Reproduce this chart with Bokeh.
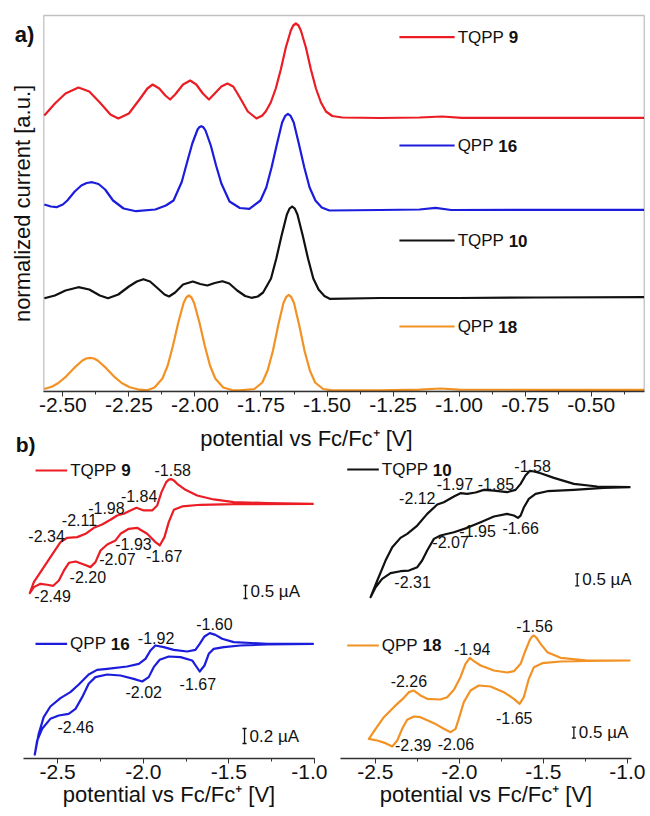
import math
from bokeh.plotting import figure
from bokeh.models import SingleIntervalTicker, NumeralTickFormatter, Range1d, BoxAnnotation
from bokeh.layouts import column, row
from bokeh.embed import file_html
from bokeh.resources import INLINE
from bokeh.core.properties import value

FONT = "Liberation Sans"
RED = "#eb1c24"
BLUE = "#1c1cdc"
BLACK = "#111111"
ORANGE = "#f39224"
INK = "#111111"
AXIS_TITLE = "potential vs Fc/Fc\u207a [V]"

# ---------------- a) normalized DPV-like curves (potential V, normalized current a.u.)
DPV_TQPP9 = [(-2.570, 2.76), (-2.530, 2.88), (-2.490, 2.98), (-2.441, 3.04), (-2.400, 3.00), (-2.360, 2.89),
             (-2.320, 2.77), (-2.290, 2.73), (-2.250, 2.78), (-2.210, 2.92), (-2.180, 3.03), (-2.160, 3.07),
             (-2.135, 3.03), (-2.112, 2.96), (-2.094, 2.92), (-2.075, 2.97), (-2.045, 3.07), (-2.018, 3.11),
             (-1.995, 3.07), (-1.970, 2.98), (-1.947, 2.92), (-1.925, 2.98), (-1.900, 3.05), (-1.877, 3.08),
             (-1.855, 3.05), (-1.830, 2.94), (-1.800, 2.80), (-1.767, 2.73), (-1.745, 2.76), (-1.732, 2.80),
             (-1.713, 2.89), (-1.694, 3.03), (-1.675, 3.22), (-1.656, 3.44), (-1.637, 3.61), (-1.628, 3.66),
             (-1.618, 3.68), (-1.608, 3.66), (-1.599, 3.61), (-1.580, 3.44), (-1.561, 3.22), (-1.542, 3.03),
             (-1.523, 2.89), (-1.504, 2.80), (-1.480, 2.755), (-1.442, 2.74), (-1.300, 2.735), (-1.150, 2.74),
             (-1.064, 2.75), (-0.990, 2.737), (-0.700, 2.737), (-0.300, 2.737)]
DPV_QPP16 = [(-2.570, 1.87), (-2.545, 1.85), (-2.524, 1.843), (-2.500, 1.87), (-2.483, 1.91), (-2.455, 2.00),
             (-2.430, 2.06), (-2.410, 2.085), (-2.389, 2.093), (-2.365, 2.075), (-2.340, 2.02), (-2.310, 1.91),
             (-2.270, 1.83), (-2.223, 1.803), (-2.150, 1.82), (-2.110, 1.86), (-2.081, 1.91), (-2.050, 2.095),
             (-2.030, 2.29), (-2.010, 2.48), (-1.990, 2.62), (-1.984, 2.642), (-1.976, 2.653), (-1.968, 2.642),
             (-1.960, 2.61), (-1.940, 2.46), (-1.920, 2.26), (-1.900, 2.08), (-1.869, 1.90), (-1.830, 1.835),
             (-1.794, 1.827), (-1.752, 1.91), (-1.730, 2.04), (-1.710, 2.24), (-1.690, 2.47), (-1.670, 2.69),
             (-1.658, 2.757), (-1.648, 2.777), (-1.638, 2.757), (-1.626, 2.69), (-1.606, 2.47), (-1.586, 2.24),
             (-1.566, 2.04), (-1.544, 1.91), (-1.520, 1.84), (-1.491, 1.81), (-1.300, 1.815), (-1.150, 1.82),
             (-1.089, 1.837), (-1.030, 1.815), (-0.700, 1.817), (-0.300, 1.817)]
DPV_TQPP10 = [(-2.570, 0.933), (-2.530, 0.96), (-2.490, 1.01), (-2.441, 1.043), (-2.400, 1.02), (-2.360, 0.96),
              (-2.329, 0.933), (-2.290, 0.97), (-2.250, 1.05), (-2.220, 1.10), (-2.195, 1.123), (-2.170, 1.10),
              (-2.140, 1.03), (-2.115, 0.97), (-2.098, 0.95), (-2.075, 0.99), (-2.045, 1.07), (-2.008, 1.10),
              (-1.980, 1.075), (-1.953, 1.06), (-1.925, 1.085), (-1.896, 1.103), (-1.870, 1.08), (-1.840, 1.01),
              (-1.810, 0.955), (-1.786, 0.937), (-1.762, 0.95), (-1.742, 0.99), (-1.712, 1.13), (-1.692, 1.33),
              (-1.672, 1.56), (-1.652, 1.77), (-1.642, 1.829), (-1.632, 1.85), (-1.622, 1.829), (-1.612, 1.77),
              (-1.592, 1.56), (-1.572, 1.33), (-1.552, 1.13), (-1.532, 1.02), (-1.510, 0.955), (-1.490, 0.927),
              (-1.300, 0.935), (-1.000, 0.935), (-0.700, 0.94), (-0.300, 0.943)]
DPV_QPP18 = [(-2.570, 0.025), (-2.540, 0.05), (-2.517, 0.085), (-2.487, 0.152), (-2.457, 0.236), (-2.427, 0.307),
             (-2.412, 0.33), (-2.397, 0.337), (-2.382, 0.33), (-2.367, 0.307), (-2.337, 0.236), (-2.307, 0.152),
             (-2.277, 0.085), (-2.247, 0.043), (-2.217, 0.022), (-2.180, 0.012), (-2.153, 0.04), (-2.123, 0.13),
             (-2.103, 0.26), (-2.083, 0.46), (-2.063, 0.69), (-2.043, 0.885), (-2.033, 0.94), (-2.023, 0.96),
             (-2.013, 0.94), (-2.003, 0.885), (-1.983, 0.69), (-1.963, 0.46), (-1.943, 0.26), (-1.923, 0.13),
             (-1.893, 0.04), (-1.860, 0.015), (-1.830, 0.012), (-1.775, 0.025), (-1.745, 0.09), (-1.725, 0.21),
             (-1.705, 0.405), (-1.685, 0.66), (-1.665, 0.885), (-1.655, 0.943), (-1.645, 0.966), (-1.635, 0.943),
             (-1.625, 0.885), (-1.605, 0.66), (-1.585, 0.405), (-1.565, 0.21), (-1.545, 0.09), (-1.515, 0.025),
             (-1.480, 0.012), (-1.300, 0.012), (-1.150, 0.018), (-1.070, 0.03), (-1.000, 0.018), (-0.700, 0.017),
             (-0.300, 0.017)]

# ---------------- b) cyclic voltammograms (potential V, current uA relative to baseline)
CV_TQPP9_FWD = [(-0.511, 0), (-0.858, 0.026), (-1.108, 0.064), (-1.257, 0.167), (-1.381, 0.321), (-1.468, 0.538),
                (-1.530, 0.769), (-1.555, 0.90), (-1.575, 0.949), (-1.592, 0.93), (-1.612, 0.833),
                (-1.647, 0.449), (-1.679, -0.064), (-1.717, -0.256), (-1.779, -0.256), (-1.834, -0.154),
                (-1.879, -0.256), (-1.929, -0.385), (-1.978, -0.449), (-2.028, -0.615), (-2.090, -0.795),
                (-2.152, -0.923), (-2.214, -1.154), (-2.276, -1.282), (-2.351, -1.308), (-2.401, -1.474),
                (-2.476, -2.051), (-2.550, -2.628), (-2.600, -3.013), (-2.630, -3.436)]
CV_TQPP9_REV = [(-2.600, -3.205), (-2.550, -3.077), (-2.500, -3.115), (-2.455, -3.154), (-2.413, -2.949),
                (-2.375, -2.564), (-2.338, -2.269), (-2.288, -2.218), (-2.226, -2.333), (-2.177, -2.436),
                (-2.140, -2.244), (-2.102, -1.795), (-2.052, -1.564), (-1.990, -1.410), (-1.953, -1.154),
                (-1.891, -0.962), (-1.829, -0.923), (-1.754, -1.154), (-1.692, -1.474), (-1.660, -1.603),
                (-1.625, -1.282), (-1.593, -0.705), (-1.555, -0.231), (-1.493, -0.103), (-1.356, -0.038),
                (-1.108, -0.013), (-0.511, 0)]
CV_TQPP10_FWD = [(-0.981, 0), (-1.179, 0.028), (-1.318, 0.139), (-1.437, 0.389), (-1.516, 0.583), (-1.556, 0.653),
                 (-1.580, 0.681), (-1.606, 0.486), (-1.635, 0.139), (-1.665, -0.111), (-1.715, -0.208),
                 (-1.794, -0.139), (-1.854, -0.111), (-1.903, -0.222), (-1.953, -0.278), (-1.993, -0.25),
                 (-2.032, -0.389), (-2.092, -0.625), (-2.131, -0.722), (-2.191, -1.111), (-2.250, -1.597),
                 (-2.310, -1.944), (-2.350, -2.111), (-2.399, -2.5), (-2.439, -3.056), (-2.488, -3.889),
                 (-2.528, -4.583)]
CV_TQPP10_REV = [(-2.498, -4.167), (-2.459, -3.819), (-2.409, -3.583), (-2.350, -3.5), (-2.300, -3.472),
                 (-2.250, -3.333), (-2.221, -3.054), (-2.191, -2.639), (-2.151, -2.153), (-2.112, -2.014),
                 (-2.032, -1.875), (-1.953, -1.694), (-1.873, -1.458), (-1.794, -1.222), (-1.715, -1.111),
                 (-1.675, -1.181), (-1.651, -1.278), (-1.635, -1.181), (-1.615, -0.833), (-1.586, -0.486),
                 (-1.546, -0.278), (-1.476, -0.167), (-1.318, -0.111), (-1.141, -0.028), (-0.981, 0)]
CV_QPP16_FWD = [(-1.003, 0), (-1.275, 0), (-1.471, 0.022), (-1.539, 0.067), (-1.578, 0.12), (-1.611, 0.142),
                (-1.642, 0.098), (-1.670, 0), (-1.695, -0.08), (-1.743, -0.102), (-1.822, -0.08), (-1.880, -0.044),
                (-1.929, -0.022), (-1.958, -0.089), (-1.987, -0.2), (-2.026, -0.267), (-2.094, -0.302),
                (-2.211, -0.333), (-2.270, -0.347), (-2.319, -0.409), (-2.377, -0.542), (-2.426, -0.644),
                (-2.484, -0.724), (-2.543, -0.836), (-2.582, -0.978), (-2.611, -1.2), (-2.634, -1.476)]
CV_QPP16_REV = [(-2.620, -1.289), (-2.591, -1.133), (-2.543, -1.0), (-2.494, -0.956), (-2.436, -0.933),
                (-2.396, -0.867), (-2.357, -0.711), (-2.319, -0.533), (-2.280, -0.444), (-2.211, -0.409),
                (-2.133, -0.422), (-2.056, -0.467), (-2.006, -0.502), (-1.968, -0.444), (-1.939, -0.311),
                (-1.904, -0.213), (-1.851, -0.169), (-1.782, -0.178), (-1.714, -0.222), (-1.670, -0.369),
                (-1.642, -0.289), (-1.617, -0.133), (-1.588, -0.067), (-1.529, -0.044), (-1.432, -0.022),
                (-1.275, -0.009), (-1.003, 0)]
CV_QPP18_FWD = [(-0.981, 0), (-1.238, 0), (-1.397, 0.121), (-1.476, 0.379), (-1.516, 0.758), (-1.540, 1.03),
                (-1.556, 1.136), (-1.568, 1.08), (-1.580, 0.94), (-1.606, 0.455), (-1.635, -0.152),
                (-1.675, -0.485), (-1.715, -0.545), (-1.794, -0.455), (-1.873, -0.227), (-1.913, -0.030),
                (-1.937, 0.121), (-1.963, -0.152), (-1.993, -0.758), (-2.032, -1.333), (-2.072, -1.667),
                (-2.112, -1.773), (-2.191, -1.742), (-2.231, -1.591), (-2.270, -1.364), (-2.300, -1.439),
                (-2.330, -1.697), (-2.390, -2.121), (-2.449, -2.576), (-2.498, -3.106), (-2.538, -3.561)]
CV_QPP18_REV = [(-2.488, -3.636), (-2.439, -3.758), (-2.399, -3.909), (-2.369, -3.636), (-2.340, -3.106),
                (-2.310, -2.697), (-2.270, -2.545), (-2.231, -2.576), (-2.151, -2.848), (-2.092, -3.106),
                (-2.052, -3.258), (-2.022, -3.106), (-2.003, -2.652), (-1.973, -1.894), (-1.933, -1.364),
                (-1.884, -1.136), (-1.814, -1.182), (-1.735, -1.439), (-1.675, -1.742), (-1.641, -1.970),
                (-1.616, -1.667), (-1.586, -0.833), (-1.556, -0.303), (-1.506, -0.121), (-1.397, -0.045),
                (-1.238, -0.015), (-0.981, 0)]

# peak potential labels: (text, x, y) in each panel's data units
LBL_TQPP9 = [("-1.58", -1.563, 1.281), ("-1.84", -1.814, 0.281), ("-1.98", -2.058, -0.154),
             ("-2.11", -2.259, -0.642), ("-2.34", -2.505, -1.246), ("-1.93", -1.856, -1.565),
             ("-1.67", -1.627, -2.015), ("-2.07", -1.976, -2.115), ("-2.20", -2.197, -2.823),
             ("-2.49", -2.460, -3.554)]
LBL_TQPP10 = [("-1.58", -1.564, 0.904), ("-1.97", -2.026, 0.142), ("-1.85", -1.782, 0.142),
              ("-2.12", -2.250, -0.429), ("-1.95", -1.891, -1.804), ("-1.66", -1.635, -1.692),
              ("-2.07", -2.052, -2.292), ("-2.31", -2.278, -3.958)]
LBL_QPP16 = [("-1.60", -1.584, 0.267), ("-1.92", -1.925, 0.075), ("-2.02", -1.997, -0.645),
             ("-1.67", -1.681, -0.533), ("-2.46", -2.395, -1.112)]
LBL_QPP18 = [("-1.56", -1.552, 1.559), ("-1.94", -1.923, 0.5), ("-2.26", -2.300, -0.941),
             ("-1.65", -1.673, -2.605), ("-2.39", -2.274, -3.864), ("-2.06", -2.020, -3.786)]

# x extent of panel a) data box and its range including the left margin
A_BOX = (-2.572, -0.2994, 0.0, 3.76)
A_XR = (-2.736, -0.2756)


def xy(pairs):
    return [p[0] for p in pairs], [p[1] for p in pairs]


def txt(f, x, y, s, size, **kw):
    f.text(x=[x], y=[y], text=[s], text_font=value(FONT), text_font_size=value(size),
           text_color=INK, **kw)


def legend_entry(f, x0, x1, y, color, name, num, size, lw):
    f.segment(x0=[x0], y0=[y], x1=[x1], y1=[y], line_color=color, line_width=lw)
    txt(f, x1, y, name, size, x_offset=3, text_align="left", text_baseline="middle")
    wpx = {"TQPP": 3.001, "QPP": 2.39}[name] * float(size.replace("px", ""))
    txt(f, x1, y, num, size, x_offset=3 + wpx, text_align="left", text_baseline="middle",
        text_font_style="bold")


def style_xaxis(ax, interval, fmt):
    ax.ticker = SingleIntervalTicker(interval=interval, num_minor_ticks=2)
    ax.formatter = NumeralTickFormatter(format=fmt)
    ax.major_tick_out = 5
    ax.major_tick_in = 0
    ax.minor_tick_out = 3
    ax.minor_tick_in = 0
    ax.axis_line_color = "#333333"
    ax.axis_line_width = 1.3
    ax.major_tick_line_color = "#333333"
    ax.minor_tick_line_color = "#333333"
    ax.major_label_text_font = FONT
    ax.major_label_text_font_size = "21px"
    ax.major_label_text_color = INK
    ax.major_label_standoff = 1


# ---------------- top figure (a)
top = figure(width=650, height=424, x_range=Range1d(*A_XR), y_range=Range1d(0, 3.91),
             output_backend="svg", toolbar_location=None, y_axis_type=None,
             min_border_left=0, min_border_right=0, min_border_top=0, min_border_bottom=33)
top.grid.visible = False
top.outline_line_color = None
style_xaxis(top.xaxis[0], 0.25, "0.00")
top.xaxis[0].bounds = (A_BOX[0], A_BOX[1])
top.add_layout(BoxAnnotation(left=A_BOX[0], right=A_BOX[1], bottom=A_BOX[2], top=A_BOX[3],
                             fill_alpha=0, line_color="#333333", line_width=1.3))

for data, col in [(DPV_TQPP9, RED), (DPV_QPP16, BLUE), (DPV_TQPP10, BLACK), (DPV_QPP18, ORANGE)]:
    xs, ys = xy(data)
    top.line(xs, ys, line_color=col, line_width=2.2, line_join="round")

legend_entry(top, -1.226, -1.017, 3.543, RED, "TQPP", "9", "17px", 2.2)
legend_entry(top, -1.226, -1.017, 2.46, BLUE, "QPP", "16", "17px", 2.2)
legend_entry(top, -1.226, -1.017, 1.51, BLACK, "TQPP", "10", "17px", 2.2)
legend_entry(top, -1.226, -1.017, 0.65, ORANGE, "QPP", "18", "17px", 2.2)

txt(top, -2.6525, 1.88, "normalized current [a.u.]", "22px", angle=math.pi / 2,
    text_align="center", text_baseline="middle")
txt(top, -2.645, 3.57, "a)", "22px", text_align="center", text_baseline="middle", text_font_style="bold")

# strip between the panels: axis title of a) and the b) tag
strip = figure(width=650, height=34, x_range=Range1d(*A_XR), y_range=Range1d(0, 1),
               output_backend="svg", toolbar_location=None, x_axis_type=None, y_axis_type=None,
               min_border_left=0, min_border_right=0, min_border_top=0, min_border_bottom=0)
strip.outline_line_color = None
strip.grid.visible = False
txt(strip, -1.578, 0.60, AXIS_TITLE, "22px", text_align="center", text_baseline="middle")
txt(strip, -2.641, 0.42, "b)", "21px", text_align="center", text_baseline="middle", text_font_style="bold")


def cv_fig(width, height, xr, yr, bl, br, bb, axis):
    f = figure(width=width, height=height, x_range=Range1d(*xr), y_range=Range1d(*yr),
               output_backend="svg", toolbar_location=None,
               min_border_left=bl, min_border_right=br, min_border_top=0, min_border_bottom=bb,
               x_axis_type=("linear" if axis else None), y_axis_type=None)
    f.outline_line_color = None
    f.grid.visible = False
    if axis:
        ax = f.xaxis[0]
        style_xaxis(ax, 0.5, "0.0")
        ax.axis_label = AXIS_TITLE
        ax.axis_label_text_font = FONT
        ax.axis_label_text_font_size = "22px"
        ax.axis_label_text_font_style = "normal"
        ax.axis_label_text_color = INK
        ax.axis_label_standoff = 0
    return f


def draw_cv(f, fwd, rev, color, labels):
    xs, ys = xy(fwd + rev)
    f.line(xs, ys, line_color=color, line_width=2.2, line_join="round")
    f.text(x=[l[1] for l in labels], y=[l[2] for l in labels], text=[l[0] for l in labels],
           text_font=value(FONT), text_font_size=value("16px"), text_align="center",
           text_baseline="middle", text_color=INK)


def scale_bar(f, x, ytop, span, halfw, label):
    f.segment(x0=[x, x - halfw, x - halfw], y0=[ytop, ytop, ytop - span],
              x1=[x, x + halfw, x + halfw], y1=[ytop - span, ytop, ytop - span],
              line_color=INK, line_width=1.3)
    txt(f, x, ytop - span / 2, label, "17px", x_offset=5, text_align="left", text_baseline="middle")


p9 = cv_fig(327, 147, (-2.677, -0.505), (-3.912, 1.742), 23, 13, 0, False)
draw_cv(p9, CV_TQPP9_FWD, CV_TQPP9_REV, RED, LBL_TQPP9)
legend_entry(p9, -2.587, -2.351, 1.281, RED, "TQPP", "9", "17px", 2.2)
scale_bar(p9, -1.020, -3.142, 0.5, 0.015, "0.5 µA")

p10 = cv_fig(323, 147, (-2.707, -0.975), (-4.929, 1.196), 13, 19, 0, False)
draw_cv(p10, CV_TQPP10_FWD, CV_TQPP10_REV, BLACK, LBL_TQPP10)
legend_entry(p10, -2.667, -2.479, 0.7375, BLACK, "TQPP", "10", "17px", 2.2)
scale_bar(p10, -1.298, -3.608, 0.5, 0.012, "0.5 µA")

p16 = cv_fig(327, 211, (-2.70, -0.999), (-1.529, 0.511), 23, 13, 58, True)
draw_cv(p16, CV_QPP16_FWD, CV_QPP16_REV, BLUE, LBL_QPP16)
legend_entry(p16, -2.630, -2.445, 0.0, BLUE, "QPP", "16", "17px", 2.2)
scale_bar(p16, -1.408, -1.129, 0.2, 0.012, "0.2 µA")

p18 = cv_fig(323, 211, (-2.707, -0.975), (-4.455, 2.5), 13, 19, 58, True)
draw_cv(p18, CV_QPP18_FWD, CV_QPP18_REV, ORANGE, LBL_QPP18)
legend_entry(p18, -2.667, -2.479, 0.682, ORANGE, "QPP", "18", "17px", 2.2)
scale_bar(p18, -1.318, -3.032, 0.5, 0.012, "0.5 µA")

layout = column(top, strip, row(column(p9, p16), column(p10, p18)))
open("out.html", "w").write(file_html(layout, INLINE))
